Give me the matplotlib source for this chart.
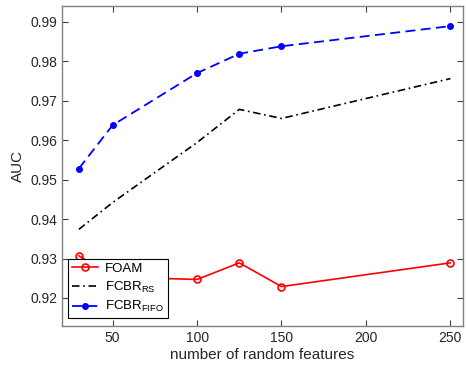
import numpy as np
import matplotlib
matplotlib.use('Agg')
import matplotlib.pyplot as plt

plt.rcParams['font.family'] = ['Liberation Sans', 'DejaVu Sans']
plt.rcParams['mathtext.fontset'] = 'custom'
plt.rcParams['mathtext.rm'] = 'Liberation Sans'

n_features = [30, 50, 100, 125, 150, 250]
foam = [0.9307, 0.9253, 0.9247, 0.9289, 0.9229, 0.9289]
fcbr_rs = [0.9374, 0.9442, 0.9594, 0.9678, 0.9655, 0.9756]
fcbr_fifo = [0.9528, 0.9638, 0.9770, 0.9819, 0.9838, 0.9889]

fig = plt.figure(figsize=(4.66, 3.68), dpi=100)
ax = fig.add_axes([62 / 466, 1 - 326 / 368, 401 / 466, 320 / 368])

ax.plot(n_features, foam, '-o', color='red', lw=1.2, ms=5, mfc='none', mew=1.2, label='FOAM')
ax.plot(n_features, fcbr_rs, color='black', lw=1.2, dashes=(4.5, 2.2, 1, 2.2),
        label=r'FCBR$_\mathregular{RS}$')
ax.plot(n_features, fcbr_fifo, color='blue', lw=1.3, dashes=(5.5, 3), marker='o', ms=4,
        label=r'FCBR$_\mathregular{FIFO}$')

ax.set_xlim(20, 257.5)
ax.set_ylim(0.9129, 0.994)
ax.set_xticks([50, 100, 150, 200, 250])
ax.set_yticks(np.arange(0.92, 0.9951, 0.01))
ax.set_yticklabels([f'{v:.2f}' for v in np.arange(0.92, 0.9951, 0.01)])

for s in ax.spines.values():
    s.set_color('#808080')
    s.set_linewidth(1.0)
ax.tick_params(direction='in', top=True, right=True, length=4, width=0.8,
               color='#404040', labelcolor='#262626', labelsize=10)
ax.set_xlabel('number of random features', fontsize=11, color='#262626', labelpad=2)
ax.set_ylabel('AUC', fontsize=11, color='#262626', labelpad=4)

leg = ax.legend(loc='lower left', bbox_to_anchor=(0.015, 0.024), fontsize=9.5, fancybox=False,
                framealpha=1, edgecolor='black', borderpad=0.3, labelspacing=0.35,
                handlelength=2.0, handletextpad=0.5, borderaxespad=0)
leg.get_frame().set_linewidth(0.8)

fig.savefig('out.png', dpi=100)
